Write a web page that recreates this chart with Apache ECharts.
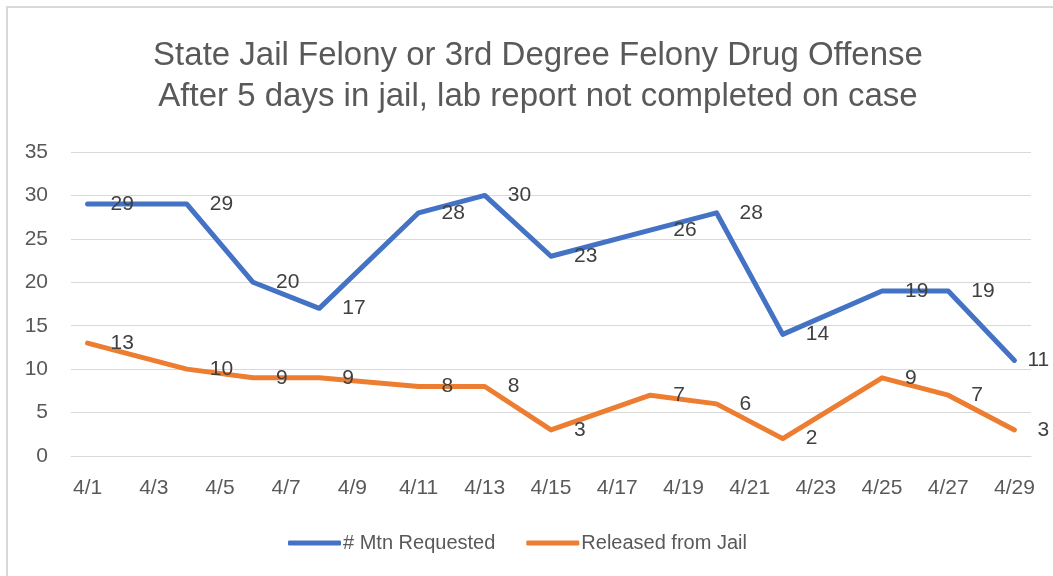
<!DOCTYPE html>
<html>
<head>
<meta charset="utf-8">
<script src="https://cdn.jsdelivr.net/npm/echarts@6/dist/echarts.min.js"></script>
<style>
  html, body { margin: 0; padding: 0; background: #fff; }
  #chart { width: 1053px; height: 576px; }
</style>
</head>
<body>
<div id="chart"></div>
<script>
// ---------- data ----------
const axisDays = ['4/1', '4/2', '4/3', '4/4', '4/5', '4/6', '4/7', '4/8', '4/9', '4/10',
  '4/11', '4/12', '4/13', '4/14', '4/15', '4/16', '4/17', '4/18', '4/19', '4/20',
  '4/21', '4/22', '4/23', '4/24', '4/25', '4/26', '4/27', '4/28', '4/29'];
const reportDates = ['4/1', '4/4', '4/6', '4/8', '4/11', '4/13', '4/15', '4/18', '4/20', '4/22', '4/25', '4/27', '4/29'];
const mtnRequested = [29, 29, 20, 17, 28, 30, 23, 26, 28, 14, 19, 19, 11];
const releasedFromJail = [13, 10, 9, 9, 8, 8, 3, 7, 6, 2, 9, 7, 3];
const seriesNames = ['# Mtn Requested', 'Released from Jail'];
const titleLines = ['State Jail Felony or 3rd Degree Felony Drug Offense', 'After 5 days in jail, lab report not completed on case'];

const FONT = '"Liberation Sans", Arial, sans-serif';
const chart = echarts.init(document.getElementById('chart'));

// pair each value with its report date; the last label is pulled in so it stays inside the chart
function pairUp(values, lastDistance) {
  return reportDates.map((d, i) => {
    const item = { value: [d, values[i]] };
    if (i === reportDates.length - 1 && lastDistance != null) item.label = { distance: lastDistance };
    return item;
  });
}

function lineSeries(name, values, color, lastDistance) {
  return {
    name: name,
    type: 'line',
    data: pairUp(values, lastDistance),
    symbol: 'circle',
    symbolSize: 2,
    showSymbol: true,
    itemStyle: { color: color },
    lineStyle: { color: color, width: 5, cap: 'round', join: 'round' },
    label: {
      show: true,
      position: 'right',
      distance: 22,
      color: '#404040',
      fontSize: 21,
      fontFamily: FONT
    },
    emphasis: { disabled: true },
    z: 3
  };
}

chart.setOption({
  animation: false,
  graphic: [{
    type: 'rect',
    shape: { x: 7, y: 7, width: 1100, height: 700 },
    style: { fill: 'none', stroke: '#d9d9d9', lineWidth: 2 },
    silent: true
  }],
  title: {
    text: titleLines.join('\n'),
    left: 533,
    textAlign: 'center',
    top: 30,
    textStyle: { color: '#595959', fontSize: 33, fontWeight: 'normal', lineHeight: 41, fontFamily: FONT }
  },
  legend: {
    data: seriesNames.map(n => ({ name: n, icon: 'roundRect' })),
    left: 283,
    top: 528,
    itemWidth: 53,
    itemHeight: 5,
    itemGap: 31,
    textStyle: { color: '#595959', fontSize: 20, fontFamily: FONT, padding: [0, 0, 0, -3] }
  },
  grid: { left: 71, right: 22, top: 152, bottom: 120 },
  xAxis: {
    type: 'category',
    data: axisDays,
    boundaryGap: true,
    axisLine: { show: true, lineStyle: { color: '#d9d9d9', width: 1 } },
    axisTick: { show: false },
    axisLabel: { interval: 1, color: '#595959', fontSize: 21, fontFamily: FONT, margin: 22 }
  },
  yAxis: {
    type: 'value',
    min: 0,
    max: 35,
    interval: 5,
    axisLine: { show: false },
    axisTick: { show: false },
    axisLabel: { color: '#595959', fontSize: 21, fontFamily: FONT, margin: 23 },
    splitLine: { lineStyle: { color: '#d9d9d9', width: 1 } }
  },
  series: [
    lineSeries(seriesNames[0], mtnRequested, '#4472c4', 12),
    lineSeries(seriesNames[1], releasedFromJail, '#ed7d31', null)
  ]
});
</script>
</body>
</html>
